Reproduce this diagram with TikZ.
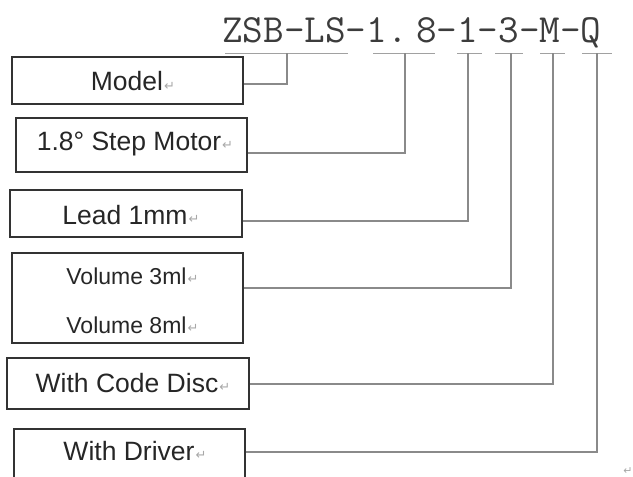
\documentclass[tikz,border=0pt]{standalone}
\usepackage{fontspec}
\setmainfont{Liberation Sans}
\newfontfamily\symfont{DejaVu Sans}
\definecolor{boxc}{HTML}{333333}
\definecolor{linec}{HTML}{8A8A8A}
\definecolor{titlec}{HTML}{3C3C3C}
\definecolor{retc}{HTML}{A8A8A8}
\newcommand{\retmark}{\rlap{\kern1pt{\symfont\fontsize{13}{13}\selectfont\color{retc}\raisebox{0.5pt}{↵}}}}
\begin{document}
\begin{tikzpicture}[x=1pt,y=-1pt,
  boxnode/.style={draw=boxc,line width=1.2pt,rectangle,inner sep=0pt},
  lbl/.style={anchor=base,inner sep=0pt,font=\fontsize{26.5}{30}\selectfont,text=black!85},
  lblsmall/.style={anchor=base,inner sep=0pt,font=\fontsize{23}{26}\selectfont,text=black!85},
  conn/.style={draw=linec,line width=1.1pt},
  uline/.style={draw=linec!80,line width=1pt}]
\useasboundingbox (0,0) rectangle (633,477);
\begin{scope}
\clip (0,0) rectangle (633,477);
% title
\node[anchor=base west,inner sep=0pt,text=titlec,font=\ttfamily\fontsize{40}{40}\selectfont] (title) at (222,42) {ZSB-LS-1.\kern-0.3em~8-1-3-M-Q};
% underlines
\draw[uline] (225,53) -- (348,53);
\draw[uline] (373,53) -- (435,53);
\draw[uline] (457,53) -- (482,53);
\draw[uline] (495,53) -- (523,53);
\draw[uline] (540,53) -- (565,53);
\draw[uline] (582,53) -- (612,53);
\coordinate (t1) at (287,53);
\coordinate (t2) at (405,53);
\coordinate (t3) at (468,53);
\coordinate (t4) at (511,53);
\coordinate (t5) at (553,53);
\coordinate (t6) at (597,53);
% boxes
\node[boxnode,minimum width=231pt,minimum height=47pt] (model) at (127.5,80.5) {};
\node[boxnode,minimum width=231pt,minimum height=54pt] (step) at (131.5,145) {};
\node[boxnode,minimum width=232pt,minimum height=47pt] (lead) at (126,213.5) {};
\node[boxnode,minimum width=231pt,minimum height=90pt] (vol) at (127.5,298) {};
\node[boxnode,minimum width=242pt,minimum height=51pt] (disc) at (128,383.5) {};
\node[boxnode,minimum width=231pt,minimum height=54pt] (drv) at (129.5,456) {};
% labels
\node[lbl] (lmodel) at (127,90.5) {Model\retmark};
\node[lbl] (lstep) at (129,150) {1.8° Step Motor\retmark};
\node[lbl] (llead) at (125,224) {Lead 1mm\retmark};
\node[lblsmall] (lvol3) at (126.5,284) {Volume 3ml\retmark};
\node[lblsmall] (lvol8) at (126.5,333) {Volume 8ml\retmark};
\node[lbl] (ldisc) at (127,392) {With Code Disc\retmark};
\node[lbl] (ldrv) at (129,460) {With Driver\retmark};
% connectors
\draw[conn] (t1) |- (model.east |- 0,84);
\draw[conn] (t2) |- (step.east |- 0,153);
\draw[conn] (t3) |- (lead.east |- 0,221);
\draw[conn] (t4) |- (vol.east |- 0,288);
\draw[conn] (t5) |- (disc.east |- 0,384);
\draw[conn] (t6) |- (drv.east |- 0,452);
% stray paragraph mark
\node[anchor=center,inner sep=0pt,font=\symfont\fontsize{11}{11}\selectfont,text=retc] (pm) at (628,471) {↵};
\end{scope}
\end{tikzpicture}
\end{document}
